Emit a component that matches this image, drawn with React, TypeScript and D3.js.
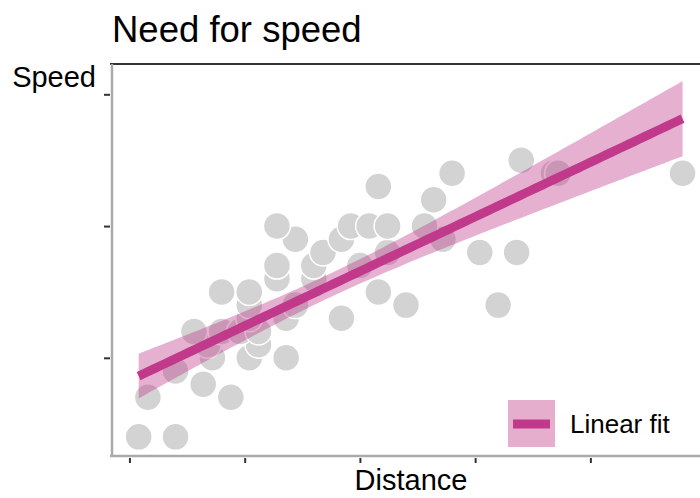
import React, { useEffect, useRef } from "react";
import * as d3 from "d3";

// cars dataset: speed (mph) vs stopping distance (ft)
const speed = [4, 4, 7, 7, 8, 9, 10, 10, 10, 11, 11, 12, 12, 12, 12, 13, 13, 13, 13, 14, 14, 14, 14, 15, 15, 15, 16, 16, 17, 17, 17, 18, 18, 18, 18, 19, 19, 19, 20, 20, 20, 20, 20, 22, 23, 24, 24, 24, 24, 25];
const dist = [2, 10, 4, 22, 16, 10, 18, 26, 34, 17, 28, 14, 20, 24, 28, 26, 34, 34, 46, 26, 36, 60, 80, 20, 26, 54, 32, 40, 32, 40, 50, 42, 56, 76, 84, 36, 46, 68, 32, 48, 52, 56, 64, 66, 54, 70, 92, 93, 120, 85];
const xTicks = [0, 25, 50, 75, 100];
const yTicks = [10, 20, 30];

const FONT = "'Liberation Sans', Arial, sans-serif";
const LINE = "#c0398a";
const BAND = "#e6aecd";

export default function App() {
  const ref = useRef<SVGSVGElement>(null);

  useEffect(() => {
    const svg = d3.select(ref.current);
    svg.selectAll("*").remove();

    const x = d3.scaleLinear().domain([-4, 124]).range([111, 701]);
    const y = d3.scaleLinear().domain([2.7, 32.3]).range([454, 64]);

    // linear fit speed ~ dist with 95% confidence band
    const n = dist.length;
    const mx = d3.mean(dist)!;
    const my = d3.mean(speed)!;
    const sxx = d3.sum(dist, d => (d - mx) ** 2);
    const sxy = d3.sum(dist, (d, i) => (d - mx) * (speed[i] - my));
    const b = sxy / sxx;
    const a = my - b * mx;
    const rss = d3.sum(dist, (d, i) => (speed[i] - a - b * d) ** 2);
    const s = Math.sqrt(rss / (n - 2));
    const t = 2.0106;
    const [lo, hi] = d3.extent(dist) as [number, number];
    const grid = d3.range(0, 101).map(k => lo + (hi - lo) * k / 100);
    const fit = grid.map(g => {
      const se = s * Math.sqrt(1 / n + (g - mx) ** 2 / sxx);
      const m = a + b * g;
      return { g, m, l: m - t * se, u: m + t * se };
    });

    // frame
    svg.append("line")
      .attr("x1", 110).attr("x2", 700).attr("y1", y(32.3)).attr("y2", y(32.3))
      .attr("stroke", "#333").attr("stroke-width", 2);

    // points
    svg.append("g")
      .selectAll("circle")
      .data(dist)
      .join("circle")
      .attr("cx", d => x(d))
      .attr("cy", (d, i) => y(speed[i]))
      .attr("r", 13.5)
      .attr("fill", "#d3d3d3")
      .attr("stroke", "#fff")
      .attr("stroke-width", 1.5);

    svg.append("path")
      .datum(fit)
      .attr("d", d3.area<any>().x(d => x(d.g)).y0(d => y(d.l)).y1(d => y(d.u)))
      .attr("fill", LINE)
      .attr("fill-opacity", 0.4);

    svg.append("path")
      .datum(fit)
      .attr("d", d3.line<any>().x(d => x(d.g)).y(d => y(d.m)))
      .attr("fill", "none")
      .attr("stroke", LINE)
      .attr("stroke-width", 9);

    // axes
    const xAxis = svg.append("g")
      .attr("transform", `translate(0,${y(2.7) + 2})`)
      .call(d3.axisBottom(x).tickValues(xTicks).tickFormat(() => "").tickSize(6).tickSizeOuter(0));
    xAxis.select(".domain").attr("stroke", "#aaa").attr("stroke-width", 2.5).attr("d", "M110,0H700");
    xAxis.selectAll(".tick line").attr("stroke", "#333").attr("stroke-width", 2).attr("y1", 2).attr("y2", 7);

    const yAxis = svg.append("g")
      .attr("transform", `translate(112,0)`)
      .call(d3.axisLeft(y).tickValues(yTicks).tickFormat(() => "").tickSize(8).tickSizeOuter(0));
    yAxis.select(".domain").attr("stroke", "#aaa").attr("stroke-width", 2.5).attr("d", "M0,64V456");
    yAxis.selectAll(".tick line").attr("stroke", "#333").attr("stroke-width", 2).attr("x1", -2).attr("x2", -8);

    // text
    svg.append("text")
      .attr("x", 112).attr("y", 42)
      .attr("font-size", 36.5).attr("font-family", FONT)
      .text("Need for speed");
    svg.append("text")
      .attr("x", 96).attr("y", 87).attr("text-anchor", "end")
      .attr("font-size", 29).attr("font-family", FONT)
      .text("Speed");
    svg.append("text")
      .attr("x", 411).attr("y", 490).attr("text-anchor", "middle")
      .attr("font-size", 29).attr("font-family", FONT)
      .text("Distance");

    // legend
    const lg = svg.append("g").attr("transform", "translate(508,400)");
    lg.append("rect").attr("width", 47).attr("height", 47).attr("fill", BAND);
    lg.append("line").attr("x1", 5).attr("x2", 42).attr("y1", 24).attr("y2", 24)
      .attr("stroke", LINE).attr("stroke-width", 9);
    lg.append("text").attr("x", 62).attr("y", 33)
      .attr("font-size", 26).attr("font-family", FONT)
      .text("Linear fit");
  }, []);

  return (
    <svg ref={ref} width={700} height={498}
      style={{ position: "absolute", left: 0, top: 0, background: "#fff" }} />
  );
}
